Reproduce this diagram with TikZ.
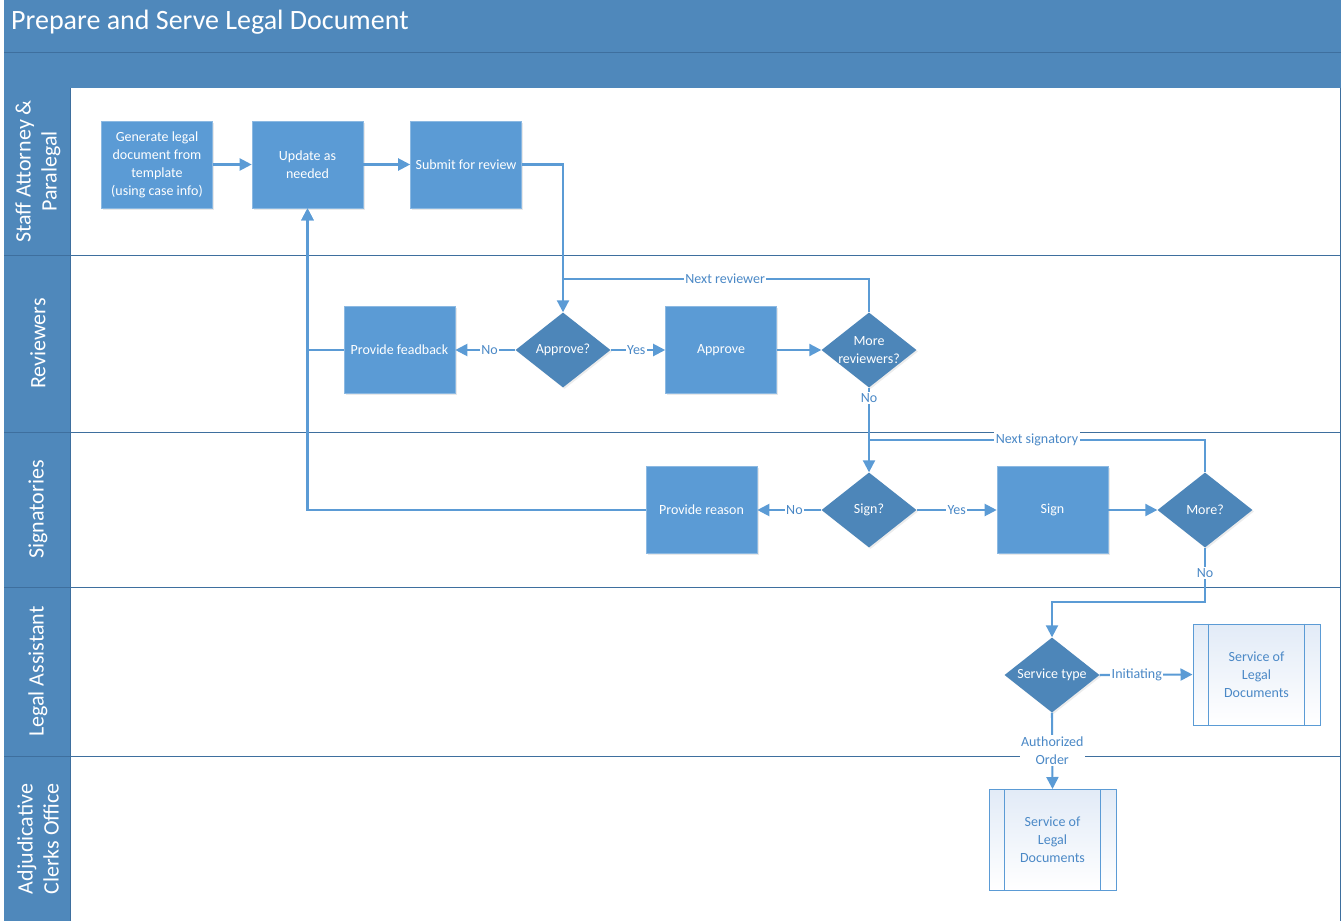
\documentclass[tikz,border=0pt]{standalone}
\usepackage{fontspec}
\setmainfont{Carlito}
\usetikzlibrary{shapes.geometric,arrows.meta,shadows}

\definecolor{band}{HTML}{4F88BB}
\definecolor{bandline}{HTML}{3E6F9E}
\definecolor{procfill}{HTML}{5B9BD5}
\definecolor{decfill}{HTML}{4D86B9}
\definecolor{flow}{HTML}{5B9BD5}
\definecolor{lblue}{HTML}{4A88C6}
\definecolor{pptop}{HTML}{E2EBF7}

\tikzset{
  txt/.style={font=\fontsize{14}{18}\selectfont},
  proc/.style={txt, rectangle, fill=procfill, draw=procfill!70!white, line width=0.6pt,
    minimum width=111pt, minimum height=87pt, text=white, align=center, inner sep=2pt,
    drop shadow={shadow xshift=1.5pt, shadow yshift=-1.5pt, opacity=0.18}},
  dec/.style={diamond, fill=decfill, minimum width=95pt, minimum height=75pt, inner sep=0pt,
    drop shadow={shadow xshift=1.5pt, shadow yshift=-1.5pt, opacity=0.15}},
  dectxt/.style={txt, text=white, align=center, inner sep=0pt},
  pp/.style={txt, rectangle, draw=flow, line width=1pt, top color=pptop, bottom color=white,
    minimum width=127pt, minimum height=101pt, text=lblue, align=center},
  ppline/.style={draw=flow, line width=1pt},
  flowline/.style={draw=flow, line width=2.1pt},
  arr/.style={flowline, -{Triangle[length=12pt,width=12pt]}},
  lbl/.style={txt, fill=white, text=lblue, inner sep=1.5pt, align=center},
  lanelbl/.style={font=\fontsize{22}{26}\selectfont, text=white, rotate=90, align=center},
  laneline/.style={draw=bandline, line width=1pt}
}

\begin{document}
\begin{tikzpicture}[x=1pt,y=-1pt]
\useasboundingbox (0,0) rectangle (1343,921);

% title bands
\fill[band] (4,0) rectangle (1341,88);
\draw[laneline] (4,52.5) -- (1341,52.5);
\node[anchor=base west, text=white, font=\fontsize{28}{32}\selectfont, inner sep=0pt] (title) at (11,29) {Prepare and Serve Legal Document};

% lane header column and separators
\fill[band] (4,88) rectangle (70,921);
\draw[laneline] (70,88) -- (70,921);
\draw[laneline] (4,255) -- (1341,255);
\draw[laneline] (4,432) -- (1341,432);
\draw[laneline] (4,587) -- (1341,587);
\draw[laneline] (4,756) -- (1341,756);
\draw[laneline] (1340.5,88) -- (1340.5,921);

\node[lanelbl] (lane1) at (38,171.5) {Staff Attorney \&\\Paralegal};
\node[lanelbl] (lane2) at (38,343.5) {Reviewers};
\node[lanelbl] (lane3) at (38,509.5) {Signatories};
\node[lanelbl] (lane4) at (38,671.5) {Legal Assistant};
\node[lanelbl] (lane5) at (38,839) {Adjudicative\\Clerks Office};

% process steps
\node[proc] (gen) at (157,164.5) {Generate legal\\document from\\template\\(using case info)};
\node[proc] (upd) at (307.5,164.5) {Update as\\needed};
\node[proc] (sub) at (466,164.5) {Submit for review};
\node[proc] (fb) at (399.5,350) {Provide feadback};
\node[proc] (apr) at (721,350) {Approve};
\node[proc] (rsn) at (701.5,510) {Provide reason};
\node[proc] (sgn) at (1052.5,510) {Sign};

% decisions
\node[dec, label={[dectxt]center:Approve?}] (appq) at (563,350) {};
\node[dec, label={[dectxt]center:More\\reviewers?}] (morerev) at (869,350) {};
\node[dec, label={[dectxt]center:Sign?}] (signq) at (869,510) {};
\node[dec, label={[dectxt]center:More?}] (more) at (1205,510) {};
\node[dec, label={[dectxt]center:Service type}] (stype) at (1052,675) {};

% predefined processes
\node[pp] (pp1) at (1256.5,674.5) {Service of\\Legal\\Documents};
\draw[ppline] ([xshift=16pt]pp1.north west) -- ([xshift=16pt]pp1.south west);
\draw[ppline] ([xshift=-16pt]pp1.north east) -- ([xshift=-16pt]pp1.south east);
\node[pp] (pp2) at (1052.5,840) {Service of\\Legal\\Documents};
\draw[ppline] ([xshift=16pt]pp2.north west) -- ([xshift=16pt]pp2.south west);
\draw[ppline] ([xshift=-16pt]pp2.north east) -- ([xshift=-16pt]pp2.south east);

% junction points of loop-backs
\coordinate (jrev) at (563,279);
\coordinate (jsig) at (869,440);

% connectors
\draw[arr] (gen) -- (upd);
\draw[arr] (upd) -- (sub);
\draw[arr] (sub.east) -| (appq.north);
\draw[flowline] (morerev.north) |- node[lbl, pos=0.735] {Next reviewer} (jrev);
\draw[arr] (appq.west) -- node[lbl, pos=0.43] {No} (fb.east);
\draw[arr] (appq.east) -- node[lbl, pos=0.47] {Yes} (apr.west);
\draw[arr] (apr.east) -- (morerev.west);
\draw[arr] (fb.west) -| (upd.south);
\draw[arr] (morerev.south) -- node[lbl, pos=0.12] {No} (signq.north);
\draw[flowline] (more.north) |- node[lbl, pos=0.75] {Next signatory} (jsig);
\draw[arr] (signq.west) -- node[lbl, pos=0.42] {No} (rsn.east);
\draw[arr] (signq.east) -- node[lbl, pos=0.5] {Yes} (sgn.west);
\draw[arr] (sgn.east) -- (more.west);
\draw[arr] (rsn.west) -| (upd.south);
\draw[arr] (more.south) |- node[lbl, pos=0.23] {No} ([yshift=35pt]stype.north) -- (stype.north);
\draw[arr] (stype.east) -- node[lbl, pos=0.4] {Initiating} (pp1.west);
\draw[arr] (stype.south) -- node[lbl, pos=0.5] {Authorized\\Order} (pp2.north);
\end{tikzpicture}
\end{document}
